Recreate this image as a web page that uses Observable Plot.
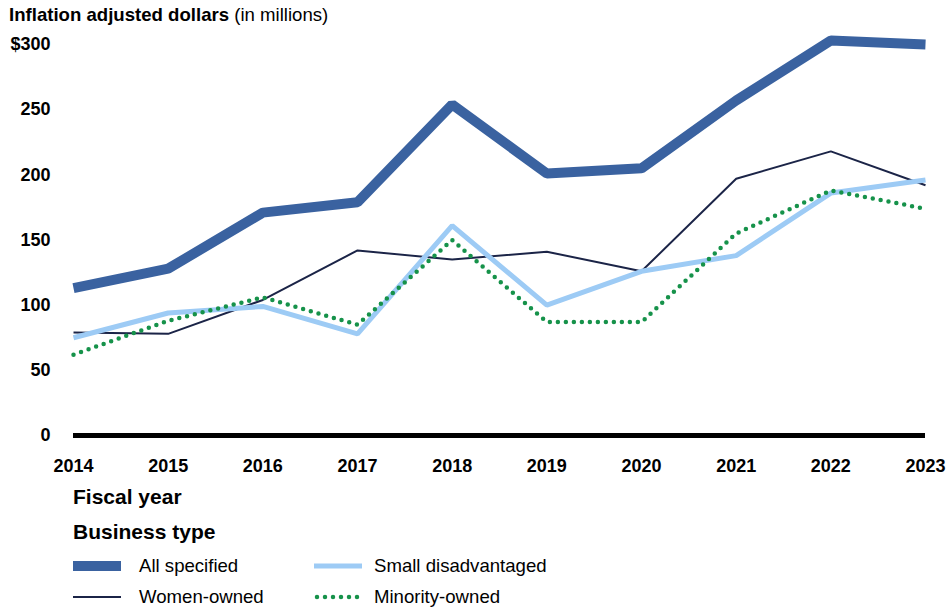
<!DOCTYPE html>
<html>
<head>
<meta charset="utf-8">
<script src="https://cdn.jsdelivr.net/npm/d3@7"></script>
<script src="https://cdn.jsdelivr.net/npm/@observablehq/plot@0.6"></script>
<style>
  body { margin: 0; background: #fff; font-family: "Liberation Sans", Arial, sans-serif; color: #000; }
  #wrap { width: 946px; height: 608px; position: relative; overflow: hidden; }
  .title { height: 30px; line-height: 30px; font-size: 18.6px; padding-left: 9px; white-space: nowrap; }
  .title b { font-weight: bold; }
  .fy { height: 34px; line-height: 34px; font-size: 21px; font-weight: bold; padding-left: 73px; }
  .bt { height: 36px; line-height: 36px; font-size: 21px; font-weight: bold; padding-left: 73px; }
  .row { height: 31px; position: relative; font-size: 18.6px; }
  .sw { position: absolute; top: 0; height: 31px; display: flex; align-items: center; }
  .lbl { position: absolute; top: 0; height: 31px; line-height: 31px; white-space: nowrap; }
  svg { display: block; }
</style>
</head>
<body>
<div id="wrap">
  <div class="title"><b>Inflation adjusted dollars</b> (in millions)</div>
  <div id="chart"></div>
  <div class="fy">Fiscal year</div>
  <div class="bt">Business type</div>
  <div id="legend"></div>
</div>
<script>
const years = [2014, 2015, 2016, 2017, 2018, 2019, 2020, 2021, 2022, 2023];
const allSpecified       = [113, 128, 171, 179, 254, 201, 205, 257, 303, 300];
const womenOwned         = [79, 78, 104, 142, 135, 141, 126, 197, 218, 192];
const smallDisadvantaged = [75, 94, 99, 78, 161, 100, 126, 138, 186, 196];
const minorityOwned      = [62, 88, 106, 85, 150, 87, 87, 155, 188, 174];
const yTicks = [0, 50, 100, 150, 200, 250, 300];
const seriesNames = ["All specified", "Small disadvantaged", "Women-owned", "Minority-owned"];

const styles = {
  "All specified":       {stroke: "#3A62A0", strokeWidth: 10, strokeLinecap: "butt", strokeLinejoin: "miter"},
  "Small disadvantaged": {stroke: "#9DCBF5", strokeWidth: 5, strokeLinecap: "butt", strokeLinejoin: "miter"},
  "Women-owned":         {stroke: "#1B2447", strokeWidth: 2, strokeLinecap: "butt", strokeLinejoin: "miter"},
  "Minority-owned":      {stroke: "#16924A", strokeWidth: 4.5, strokeLinecap: "round", strokeLinejoin: "round", strokeDasharray: "0 8"}
};

const seriesValues = {
  "All specified": allSpecified,
  "Women-owned": womenOwned,
  "Small disadvantaged": smallDisadvantaged,
  "Minority-owned": minorityOwned
};
const drawOrder = ["All specified", "Women-owned", "Small disadvantaged", "Minority-owned"];
const rows = (name) => years.map((y, i) => ({year: y, value: seriesValues[name][i], series: name}));

const chart = Plot.plot({
  width: 946,
  height: 450,
  marginLeft: 73,
  marginRight: 21,
  marginTop: 14,
  marginBottom: 45,
  style: {fontFamily: "Liberation Sans, Arial, sans-serif", color: "#000", background: "#fff", overflow: "visible"},
  x: {domain: [2014, 2023], label: null},
  y: {domain: [0, 300], label: null},
  marks: [
    Plot.axisY({ticks: yTicks, tickSize: 0, tickPadding: 23, fontSize: 18, fontWeight: "bold",
      tickFormat: d => d === 300 ? "$300" : String(d), label: null}),
    Plot.axisX({ticks: years, tickSize: 0, tickPadding: 24, fontSize: 18, fontWeight: "bold",
      tickFormat: d => String(d), label: null}),
    Plot.ruleY([0], {stroke: "#000", strokeWidth: 5}),
    ...drawOrder.map(name => Plot.line(rows(name), {x: "year", y: "value", ...styles[name]}))
  ]
});
document.getElementById("chart").appendChild(chart);

// Legend
const legend = document.getElementById("legend");
const layout = [
  [["All specified", 73, 139], ["Small disadvantaged", 314, 374]],
  [["Women-owned", 73, 139], ["Minority-owned", 314, 374]]
];
const ns = "http://www.w3.org/2000/svg";
layout.forEach(r => {
  const row = document.createElement("div");
  row.className = "row";
  r.forEach(([name, x, tx]) => {
    const item = document.createElement("div");
    item.className = "sw";
    item.style.left = x + "px";
    const sw = document.createElementNS(ns, "svg");
    sw.setAttribute("width", 48);
    sw.setAttribute("height", 12);
    const ln = document.createElementNS(ns, "line");
    const st = styles[name];
    const pad = st.strokeLinecap === "round" ? 3 : 0;
    ln.setAttribute("x1", pad); ln.setAttribute("x2", 48 - pad);
    ln.setAttribute("y1", 6); ln.setAttribute("y2", 6);
    ln.setAttribute("stroke", st.stroke);
    ln.setAttribute("stroke-width", Math.min(st.strokeWidth, 10));
    ln.setAttribute("stroke-linecap", st.strokeLinecap);
    if (st.strokeDasharray) ln.setAttribute("stroke-dasharray", st.strokeDasharray);
    sw.appendChild(ln);
    item.appendChild(sw);
    row.appendChild(item);
    const t = document.createElement("div");
    t.className = "lbl";
    t.style.left = tx + "px";
    t.textContent = name;
    row.appendChild(t);
  });
  legend.appendChild(row);
});
</script>
</body>
</html>
